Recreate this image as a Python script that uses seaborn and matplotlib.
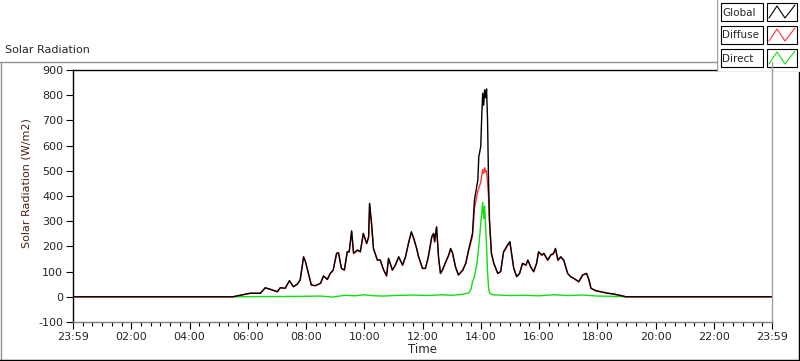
import pandas as pd
import matplotlib
matplotlib.use("Agg")
import matplotlib.pyplot as plt
from matplotlib.lines import Line2D
from matplotlib.patches import Rectangle
from matplotlib.ticker import MultipleLocator
import seaborn as sns

# 读取的数据 (time of day, W/m2)
times = ["00:00", "05:30", "05:34", "05:49", "06:05", "06:26", "06:36", "06:46", "07:01", "07:07",
         "07:17", "07:26", "07:34", "07:42", "07:48", "07:55", "07:59", "08:05", "08:11", "08:19",
         "08:30", "08:36", "08:44", "08:50", "08:56", "09:03", "09:07", "09:13", "09:19", "09:25",
         "09:29", "09:34", "09:38", "09:46", "09:52", "09:58", "10:05", "10:09", "10:11", "10:15",
         "10:19", "10:27", "10:33", "10:40", "10:46", "10:50", "10:58", "11:04", "11:11", "11:19",
         "11:25", "11:31", "11:37", "11:42", "11:48", "11:52", "12:00", "12:06", "12:12", "12:19",
         "12:23", "12:25", "12:29", "12:33", "12:37", "12:41", "12:48", "12:54", "12:58", "13:02",
         "13:08", "13:14", "13:23", "13:29", "13:35", "13:43", "13:47", "13:54", "13:56", "14:00",
         "14:02", "14:04", "14:06", "14:08", "14:10", "14:12", "14:14", "14:16", "14:18", "14:22",
         "14:27", "14:35", "14:41", "14:47", "14:55", "15:00", "15:04", "15:08", "15:14", "15:20",
         "15:26", "15:33", "15:37", "15:43", "15:49", "15:55", "15:59", "16:06", "16:10", "16:18",
         "16:24", "16:30", "16:34", "16:39", "16:45", "16:51", "16:59", "17:05", "17:12", "17:22",
         "17:30", "17:38", "17:43", "17:47", "17:57", "18:07", "18:22", "18:34", "18:44", "18:53",
         "18:59", "24:00"]

global_rad = [0, 0, 2, 8, 14, 14, 36, 30, 20, 36,
              34, 64, 40, 50, 67, 159, 139, 93, 47, 44,
              54, 83, 69, 93, 106, 173, 175, 113, 106, 179,
              179, 262, 173, 186, 179, 252, 212, 238, 371, 292,
              192, 146, 146, 106, 83, 153, 106, 126, 159, 126,
              159, 212, 258, 232, 192, 159, 113, 113, 159, 238,
              252, 219, 278, 159, 93, 106, 139, 166, 192, 173,
              119, 87, 106, 133, 186, 252, 384, 463, 556, 596,
              715, 808, 760, 821, 790, 825, 702, 463, 305, 173,
              133, 93, 100, 179, 205, 219, 166, 113, 80, 93,
              133, 126, 146, 119, 100, 133, 179, 166, 173, 146,
              166, 173, 192, 146, 159, 146, 93, 80, 73, 60,
              87, 93, 67, 34, 24, 20, 14, 11, 7, 3,
              0, 0]

diffuse_rad = [0, 0, 2, 8, 14, 14, 35, 30, 20, 36,
               33, 63, 40, 50, 66, 156, 137, 91, 47, 44,
               53, 82, 69, 92, 105, 170, 173, 112, 106, 177,
               177, 258, 171, 184, 178, 249, 210, 236, 366, 289,
               190, 145, 145, 106, 83, 151, 105, 125, 157, 125,
               157, 210, 255, 230, 190, 157, 112, 112, 157, 235,
               249, 217, 275, 157, 92, 105, 138, 164, 190, 171,
               118, 86, 105, 131, 183, 240, 350, 420, 430, 455,
               480, 505, 490, 512, 495, 500, 450, 400, 295, 170,
               131, 92, 99, 176, 202, 216, 164, 112, 80, 92,
               131, 125, 144, 118, 99, 131, 176, 164, 170, 144,
               164, 170, 189, 144, 157, 144, 92, 80, 72, 59,
               86, 92, 66, 34, 24, 20, 14, 11, 7, 3,
               0, 0]

direct_times = ["05:30", "06:30", "07:00", "08:00", "08:30", "08:55", "09:05", "09:20", "09:40", "10:00",
                "10:20", "10:40", "11:00", "11:40", "12:10", "12:40", "13:00", "13:20", "13:35", "13:40",
                "13:43", "13:47", "13:52", "13:56", "14:00", "14:02", "14:04", "14:06", "14:08", "14:10",
                "14:12", "14:14", "14:16", "14:18", "14:25", "15:00", "15:30", "16:00", "16:30", "17:00",
                "17:30", "18:00", "18:30", "19:00"]

direct_rad = [0, 1, 1, 2, 3, -1, 2, 6, 4, 8,
              4, 3, 5, 7, 5, 8, 6, 9, 15, 30,
              60, 80, 130, 200, 290, 330, 375, 310, 360, 280,
              200, 100, 40, 15, 8, 5, 6, 4, 8, 5,
              7, 3, 2, 0]

hour_labels = ["23:59", "02:00", "04:00", "06:00", "08:00", "10:00", "12:00",
               "14:00", "16:00", "18:00", "20:00", "22:00", "23:59"]


def to_hours(t):
    return pd.to_timedelta([s + ":00" for s in t]).total_seconds() / 3600


df = pd.DataFrame({"hour": to_hours(times), "Global": global_rad, "Diffuse": diffuse_rad})
df_direct = pd.DataFrame({"hour": to_hours(direct_times), "Direct": direct_rad})

sns.set_style("white")
plt.rcParams["font.family"] = ["DejaVu Sans"]
plt.rcParams["font.size"] = 8
plt.rcParams["axes.unicode_minus"] = False

fig = plt.figure(figsize=(8, 3.61), dpi=100)
ax = fig.add_axes([73 / 800, 1 - 322 / 361, 699 / 800, 252 / 361])

sns.lineplot(data=df_direct, x="hour", y="Direct", ax=ax, color="#10e010", lw=1.0, estimator=None)
sns.lineplot(data=df, x="hour", y="Diffuse", ax=ax, color="#ff3333", lw=1.0, estimator=None)
sns.lineplot(data=df, x="hour", y="Global", ax=ax, color="black", lw=1.0, estimator=None)

ax.set_xlim(0, 24)
ax.set_ylim(-100, 900)
ax.set_xticks(range(0, 25, 2))
ax.set_xticklabels(hour_labels)
ax.xaxis.set_minor_locator(MultipleLocator(1 / 3))
ax.set_yticks(range(-100, 901, 100))
ax.tick_params(axis="both", which="major", direction="out", length=5, width=0.8,
               color="black", labelsize=8, pad=2, bottom=True, left=True)
ax.tick_params(axis="x", which="minor", direction="out", length=3, width=0.8,
               color="black", bottom=True)
ax.grid(False)

ax.spines["left"].set_color("black")
ax.spines["top"].set_color("black")
ax.spines["right"].set_color("#a0a0a0")
ax.spines["bottom"].set_color("#808080")
for s in ax.spines.values():
    s.set_linewidth(1.0)

ax.set_xlabel("Time", fontsize=8.5, labelpad=1)
ax.set_ylabel("Solar Radiation (W/m2)", fontsize=8, color="#4a2410")
ax.yaxis.set_label_coords(-0.059, 0.55)

# panel frame
W, H = 800, 361
def fline(x0, y0, x1, y1, c):
    fig.add_artist(Line2D([x0 / W, x1 / W], [1 - y0 / H, 1 - y1 / H],
                          transform=fig.transFigure, color=c, lw=1.0))

fline(0, 62, 717, 62, "#909090")
fline(1, 62, 1, 361, "#909090")
fline(0, 360, 800, 360, "black")
fline(799, 72, 799, 361, "black")
fline(772, 62, 772, 72, "#a0a0a0")

fig.text(5 / W, 1 - 50 / H, "Solar Radiation", fontsize=8, va="center", ha="left")

# legend
lax = fig.add_axes([717 / W, 1 - 72 / H, 83 / W, 72 / H])
lax.set_xlim(717, 800)
lax.set_ylim(72, 0)
lax.axis("off")
lax.add_patch(Rectangle((717, 0), 83, 72, facecolor="white", edgecolor="none"))
lax.plot([717.5, 717.5], [0, 71.5], color="#a0a0a0", lw=1.0)
lax.plot([717.5, 800], [71.5, 71.5], color="#a0a0a0", lw=1.0)
entries = [("Global", "black", 3), ("Diffuse", "#ff3333", 26), ("Direct", "#10e010", 49)]
for name, col, y0 in entries:
    lax.add_patch(Rectangle((721, y0), 42, 18, facecolor="white", edgecolor="black", lw=0.8))
    lax.add_patch(Rectangle((767, y0), 30, 18, facecolor="white", edgecolor="black", lw=0.8))
    lax.text(722.5, y0 + 9.5, name, fontsize=7.5, va="center", ha="left")
    lax.plot([769, 777, 785, 795], [y0 + 15, y0 + 3, y0 + 15, y0 + 2], color=col, lw=0.8)

fig.savefig("out.png", dpi=100, facecolor="white")
